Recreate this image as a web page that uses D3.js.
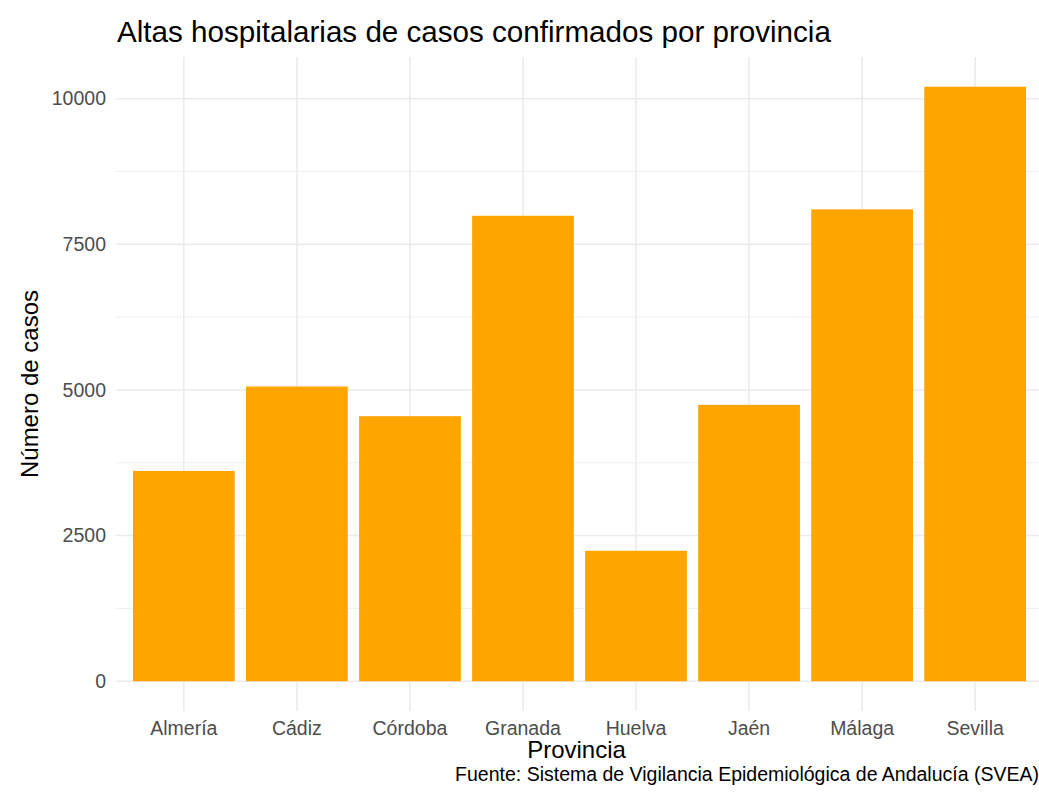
<!DOCTYPE html>
<html>
<head>
<meta charset="utf-8">
<title>Altas hospitalarias</title>
<script src="https://cdn.jsdelivr.net/npm/d3@7"></script>
<style>
    body { margin: 0; background: #ffffff; overflow: hidden; }
    text { font-family: "Liberation Sans", Arial, sans-serif; }
    .tick-label { fill: #4d4d4d; font-size: 19.5px; }
    .axis-title { fill: #000000; font-size: 24px; }
</style>
</head>
<body>
<script>
//bar chart of hospital discharges per province

//pseudo-global data arrays
var provincias = ["Almería", "Cádiz", "Córdoba", "Granada", "Huelva", "Jaén", "Málaga", "Sevilla"];
var casos = [3610, 5060, 4550, 7990, 2240, 4745, 8100, 10205];
var yTicks = [0, 2500, 5000, 7500, 10000];
var yMinorTicks = [1250, 3750, 6250, 8750];

var titulo = "Altas hospitalarias de casos confirmados por provincia";
var xTitulo = "Provincia";
var yTitulo = "Número de casos";
var fuente = "Fuente: Sistema de Vigilancia Epidemiológica de Andalucía (SVEA)";

window.onload = setChart();

function setChart(){
    var width = 1039,
        height = 800;

    //panel edges (the panel runs a bit past the right side, as in the picture)
    var panel = {left: 116, right: 1043, top: 57, bottom: 711};

    var svg = d3.select("body")
        .append("svg")
        .attr("width", width)
        .attr("height", height);

    //discrete x scale, ggplot style expansion
    var x = d3.scaleBand()
        .domain(provincias)
        .range([panel.left, panel.right])
        .paddingInner(0.1)
        .paddingOuter(0.15);

    //y scale with 5% expansion on both ends
    var maxVal = d3.max(casos);
    var y = d3.scaleLinear()
        .domain([-0.05 * maxVal, 1.05 * maxVal])
        .range([panel.bottom, panel.top]);

    setGrid(svg, x, y, panel);
    setBars(svg, x, y);
    setLabels(svg, x, y, panel);
};

function setGrid(svg, x, y, panel){
    //minor horizontal lines
    svg.selectAll(".minorGrid")
        .data(yMinorTicks)
        .enter()
        .append("line")
        .attr("class", "minorGrid")
        .attr("x1", panel.left)
        .attr("x2", panel.right)
        .attr("y1", function(d){ return y(d); })
        .attr("y2", function(d){ return y(d); })
        .style("stroke", "#f0f0f0")
        .style("stroke-width", 1);

    //major horizontal lines
    svg.selectAll(".majorGrid")
        .data(yTicks)
        .enter()
        .append("line")
        .attr("class", "majorGrid")
        .attr("x1", panel.left)
        .attr("x2", panel.right)
        .attr("y1", function(d){ return y(d); })
        .attr("y2", function(d){ return y(d); })
        .style("stroke", "#ebebeb")
        .style("stroke-width", 1.5);

    //vertical lines at each province
    svg.selectAll(".xGrid")
        .data(provincias)
        .enter()
        .append("line")
        .attr("class", "xGrid")
        .attr("x1", function(d){ return x(d) + x.bandwidth() / 2; })
        .attr("x2", function(d){ return x(d) + x.bandwidth() / 2; })
        .attr("y1", panel.top)
        .attr("y2", panel.bottom)
        .style("stroke", "#ebebeb")
        .style("stroke-width", 1.5);
};

function setBars(svg, x, y){
    svg.selectAll(".bar")
        .data(provincias)
        .enter()
        .append("rect")
        .attr("class", "bar")
        .attr("x", function(d){ return x(d); })
        .attr("width", x.bandwidth())
        .attr("y", function(d, i){ return y(casos[i]); })
        .attr("height", function(d, i){ return y(0) - y(casos[i]); })
        .style("fill", "#ffa500");
};

function setLabels(svg, x, y, panel){
    //y tick labels
    svg.selectAll(".yLabel")
        .data(yTicks)
        .enter()
        .append("text")
        .attr("class", "tick-label")
        .attr("x", 106)
        .attr("y", function(d){ return y(d); })
        .attr("dy", "0.35em")
        .attr("text-anchor", "end")
        .text(function(d){ return d; });

    //x tick labels
    svg.selectAll(".xLabel")
        .data(provincias)
        .enter()
        .append("text")
        .attr("class", "tick-label")
        .attr("x", function(d){ return x(d) + x.bandwidth() / 2; })
        .attr("y", 735)
        .attr("text-anchor", "middle")
        .text(function(d){ return d; });

    //title
    svg.append("text")
        .attr("x", panel.left + 1)
        .attr("y", 42)
        .style("font-size", "29.6px")
        .style("fill", "#000")
        .text(titulo);

    //axis titles
    svg.append("text")
        .attr("class", "axis-title")
        .attr("x", (panel.left + panel.right) / 2 - 3)
        .attr("y", 758)
        .attr("text-anchor", "middle")
        .text(xTitulo);

    svg.append("text")
        .attr("class", "axis-title")
        .attr("transform", "translate(38," + ((panel.top + panel.bottom) / 2) + ") rotate(-90)")
        .attr("text-anchor", "middle")
        .text(yTitulo);

    //source caption, right aligned at the window edge
    svg.append("text")
        .attr("x", 1039)
        .attr("y", 781)
        .attr("text-anchor", "end")
        .style("font-size", "19.5px")
        .style("fill", "#000")
        .text(fuente);
};
</script>
</body>
</html>
